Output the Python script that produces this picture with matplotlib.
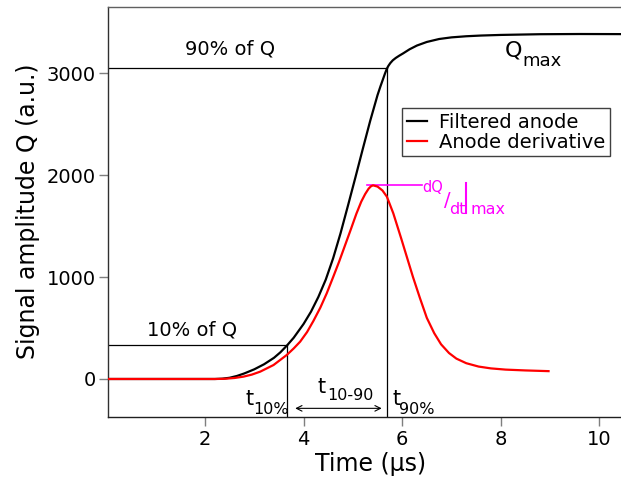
import matplotlib
matplotlib.use("Agg")
import matplotlib.pyplot as plt

plt.rcParams['font.family'] = ['DejaVu Sans']

# Filtered anode signal (time in µs, amplitude in a.u.)
anode_t = [0.03, 1.0, 2.0, 2.2, 2.35, 2.5, 2.65, 2.8, 3.0, 3.2, 3.4, 3.53,
           3.66, 3.80, 4.00, 4.15, 4.30, 4.45, 4.60, 4.75, 4.90, 5.05, 5.20,
           5.35, 5.50, 5.56, 5.61, 5.65, 5.69, 5.72, 5.76, 5.81, 5.87, 5.94,
           6.02, 6.15, 6.30, 6.50, 6.75, 7.00, 7.30, 7.60, 8.00, 8.80, 9.60,
           10.44]
anode_q = [0, 0, 0, 0, 3, 12, 30, 55, 95, 145, 208, 262,
           327, 405, 540, 660, 805, 975, 1185, 1430, 1700, 1975, 2255,
           2530, 2785, 2872, 2940, 2995, 3045, 3072, 3100, 3127, 3150, 3172,
           3195, 3235, 3272, 3307, 3336, 3352, 3363, 3370, 3376, 3383, 3385,
           3384]

# Derivative of the anode signal
deriv_t = [0.03, 2.2, 2.4, 2.6, 2.78, 2.95, 3.12, 3.39, 3.66, 3.80, 3.93,
           4.07, 4.20, 4.34, 4.47, 4.60, 4.72, 4.84, 4.96, 5.07, 5.17, 5.25,
           5.32, 5.37, 5.41, 5.50, 5.60, 5.69, 5.82, 5.98, 6.10, 6.22, 6.36,
           6.50, 6.65, 6.79, 6.95, 7.10, 7.30, 7.55, 7.80, 8.10, 8.50, 8.97]
deriv_q = [0, 0, 2, 10, 23, 43, 72, 137, 236, 300, 366,
           460, 570, 700, 841, 1000, 1150, 1310, 1470, 1620, 1740, 1815,
           1868, 1892, 1900, 1888, 1850, 1789, 1626, 1380, 1190, 1000, 795,
           600, 450, 340, 255, 200, 155, 122, 104, 92, 84, 77]

# Rise-time markers
q10 = 330
q90 = 3050
t10 = 3.66
t90 = 5.69
dqdt_max = 1900

fig = plt.figure(figsize=(6.21, 4.80), dpi=100)
ax = fig.add_axes([107.7 / 621, (480 - 416.7) / 480, 1 - 107.7 / 621, 410 / 480])
ax.set_xlim(0.026, 10.44)
ax.set_ylim(-370, 3653)

ax.plot(anode_t, anode_q, color='black', lw=1.6, label='Filtered anode', zorder=3)
ax.plot(deriv_t, deriv_q, color='#ff0000', lw=1.6, label='Anode derivative', zorder=3)

# 10 % and 90 % construction lines
ymin = ax.get_ylim()[0]
xmin = ax.get_xlim()[0]
ax.plot([xmin, t10], [q10, q10], color='black', lw=0.9, zorder=2)
ax.plot([t10, t10], [q10, ymin], color='black', lw=0.9, zorder=2)
ax.plot([xmin, t90], [q90, q90], color='black', lw=0.9, zorder=2)
ax.plot([t90, t90], [q90, ymin], color='black', lw=0.9, zorder=2)

ax.text(2.51, 3180, '90% of Q', fontsize=14, ha='center', va='baseline')
ax.text(1.73, 428, '10% of Q', fontsize=14, ha='center', va='baseline')
ax.text(8.09, 3160, 'Q', fontsize=16, ha='left', va='baseline')
ax.text(8.43, 3072, 'max', fontsize=13, ha='left', va='baseline')

# Rise-time labels
ax.text(2.82, -255, 't', fontsize=15, ha='left', va='baseline')
ax.text(2.97, -343, '10%', fontsize=11.5, ha='left', va='baseline')
ax.text(5.81, -255, 't', fontsize=15, ha='left', va='baseline')
ax.text(5.94, -343, '90%', fontsize=11.5, ha='left', va='baseline')
ax.text(4.29, -137, 't', fontsize=15, ha='left', va='baseline')
ax.text(4.49, -206, '10-90', fontsize=11.5, ha='left', va='baseline')
ax.annotate('', xy=(3.83, -288), xytext=(5.585, -288),
            arrowprops=dict(arrowstyle='<->', color='black', lw=0.8,
                            shrinkA=0, shrinkB=0))

# Maximum slope marker: dQ/dt|max
mag = '#ff00ff'
ax.plot([5.28, 6.40], [dqdt_max, dqdt_max], color=mag, lw=1.2, zorder=2)
ax.text(6.41, 1835, 'dQ', fontsize=10.5, color=mag, ha='left', va='baseline')
ax.text(6.84, 1698, '/', fontsize=14, color=mag, ha='left', va='baseline')
ax.text(6.95, 1619, 'dt', fontsize=11.5, color=mag, ha='left', va='baseline')
ax.plot([7.296, 7.296], [1626, 1920], color=mag, lw=1.5, zorder=2)
ax.text(7.38, 1619, 'max', fontsize=11.5, color=mag, ha='left', va='baseline')

ax.set_xticks([2, 4, 6, 8, 10])
ax.set_yticks([0, 1000, 2000, 3000])
ax.tick_params(axis='both', direction='out', length=6.5, width=1,
               color='#7f7f7f', labelsize=14)
ax.tick_params(axis='x', pad=3)
ax.tick_params(axis='y', pad=2)

ax.spines['right'].set_visible(False)
ax.spines['top'].set_color('#606060')
ax.spines['left'].set_color('#303030')
ax.spines['bottom'].set_color('#202020')
for s in ('top', 'left', 'bottom'):
    ax.spines[s].set_linewidth(1.0)

ax.set_xlabel('Time (µs)', fontsize=17)
ax.set_ylabel('Signal amplitude Q (a.u.)', fontsize=17)
ax.xaxis.set_label_coords(0.512, -0.086)
ax.yaxis.set_label_coords(-0.132, 0.5)

leg = ax.legend(loc='upper right', bbox_to_anchor=(0.9786, 0.7537),
                fontsize=14, frameon=True, fancybox=False, framealpha=1,
                edgecolor='#404040', borderaxespad=0, borderpad=0.25,
                handlelength=1.05, handletextpad=0.6, labelspacing=0.05)
leg.get_frame().set_linewidth(1.0)

fig.savefig('out.png', dpi=100)
